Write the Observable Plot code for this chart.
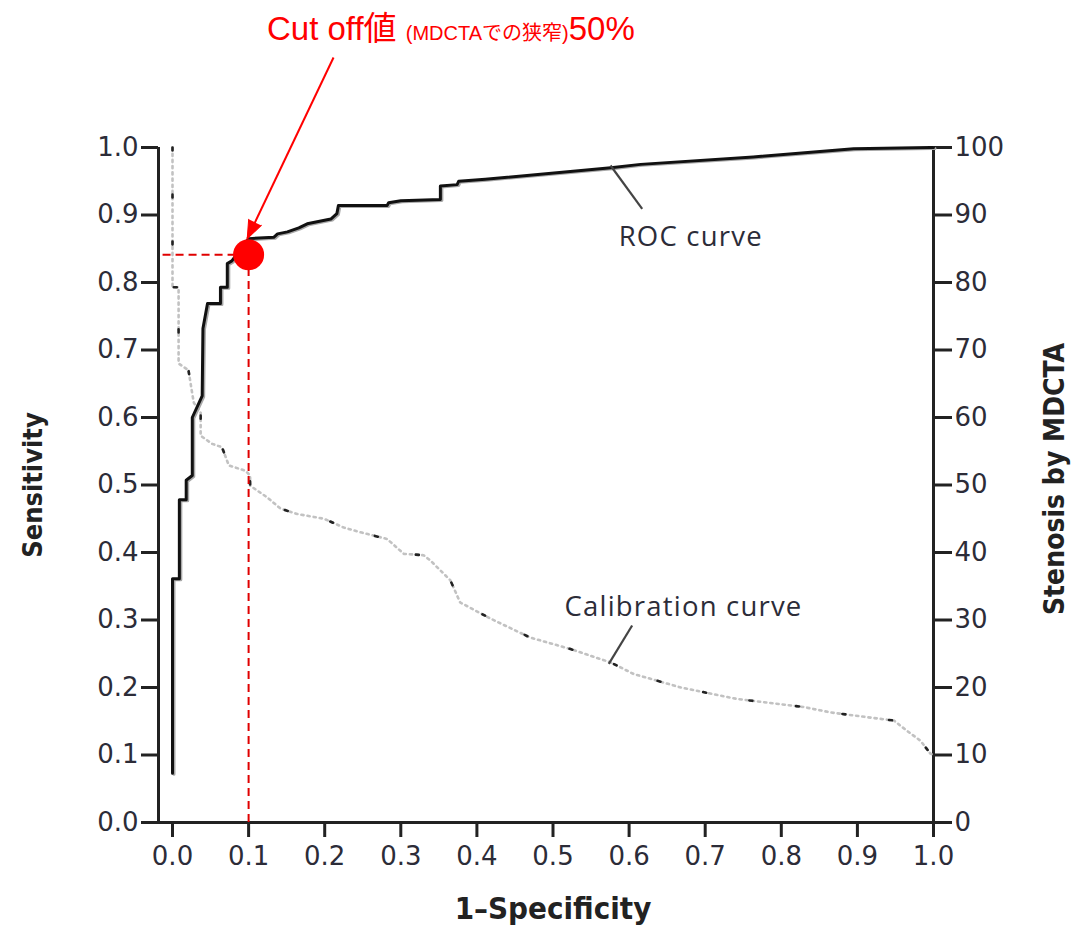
<!DOCTYPE html>
<html>
<head>
<meta charset="utf-8">
<script src="https://cdn.jsdelivr.net/npm/d3@7"></script>
<script src="https://cdn.jsdelivr.net/npm/@observablehq/plot@0.6"></script>
<style>
  body { margin: 0; background: #fff; }
  #wrap { position: relative; width: 1079px; height: 928px; }
  #title { position: absolute; left: 267px; top: 9px; white-space: nowrap; color: #ff0000;
           font-family: "Liberation Sans", "Noto Sans CJK JP", sans-serif; font-size: 33px; line-height: 40px; }
  #title .small { font-size: 20px; }
  #wrap svg { position: absolute; left: 0; top: 0; }
</style>
</head>
<body>
<div id="wrap"></div>
<script>
// ROC curve vertices (1 - specificity, sensitivity)
const rocFpr  = [0.000,0.000,0.009,0.009,0.018,0.018,0.026,0.026,0.039,0.040,0.046,0.063,0.063,0.072,0.072,0.078,0.100,0.133,0.138,0.151,0.166,0.177,0.208,0.216,0.218,0.282,0.284,0.300,0.352,0.352,0.374,0.376,0.411,0.576,0.615,0.763,0.895,0.996,1.000];
const rocSens = [0.073,0.361,0.361,0.478,0.478,0.507,0.514,0.600,0.632,0.732,0.769,0.769,0.793,0.793,0.828,0.832,0.865,0.867,0.872,0.875,0.881,0.887,0.894,0.902,0.914,0.914,0.918,0.921,0.923,0.943,0.945,0.950,0.953,0.970,0.975,0.986,0.998,1.000,1.000];

// Calibration curve (1 - specificity, stenosis by MDCTA %)
const calFpr      = [0,0,0.008,0.008,0.021,0.026,0.028,0.037,0.037,0.052,0.065,0.074,0.096,0.102,0.102,0.124,0.142,0.164,0.199,0.225,0.247,0.282,0.304,0.330,0.339,0.365,0.378,0.418,0.470,0.523,0.576,0.606,0.668,0.742,0.830,0.865,0.913,0.948,0.965,0.983,0.996,1.0];
const calStenosis = [100,79.3,79.3,68.0,67.0,63.5,62.2,60.7,57.3,56.1,55.6,52.9,52.1,51.4,49.9,48.2,46.5,45.7,45.0,43.7,43.0,42.0,39.8,39.6,38.8,35.9,32.6,30.2,27.4,25.7,23.7,22.0,20.0,18.3,17.1,16.3,15.6,15.1,13.6,12.1,10.2,10.0];

// ticks
const xTicks = [0,0.1,0.2,0.3,0.4,0.5,0.6,0.7,0.8,0.9,1.0];
const yTicks = [0,0.1,0.2,0.3,0.4,0.5,0.6,0.7,0.8,0.9,1.0];
const stenosisTicks = [0,10,20,30,40,50,60,70,80,90,100];

// cut-off point
const cutoffFpr = [0.1];
const cutoffSens = [0.841];
const xMin = -0.0184;

// annotations
const curveLabels = ["ROC curve", "Calibration curve"];
const labelFpr = [0.681, 0.6715];
const labelSens = [0.8667, 0.3185];
const leaderX1 = [0.5756, 0.604];
const leaderY1 = [0.9733, 0.2919];
const leaderX2 = [0.6172, 0.5733];
const leaderY2 = [0.9092, 0.2351];
const arrowStart = [0.2116, 1.1333];
const arrowTip = [0.0982, 0.865];

const roc = rocFpr.map((x, i) => ({x, y: rocSens[i]}));
const cal = calFpr.map((x, i) => ({x, s: calStenosis[i]}));
const labels = curveLabels.map((t, i) => ({t, x: labelFpr[i], y: labelSens[i]}));
const leaders = curveLabels.map((t, i) => ({x1: leaderX1[i], y1: leaderY1[i], x2: leaderX2[i], y2: leaderY2[i]}));
const arrow = [{x1: arrowStart[0], y1: arrowStart[1], x2: arrowTip[0], y2: arrowTip[1]}];

const axisColor = "#222";
const labelColor = "#2c2c38";

const chart = Plot.plot({
  width: 1079,
  height: 928,
  marginLeft: 158,
  marginRight: 146,
  marginTop: 147,
  marginBottom: 106,
  x: {domain: [xMin, 1]},
  y: {domain: [0, 1]},
  style: {fontFamily: "DejaVu Sans", fontSize: "26px", background: "transparent", overflow: "visible"},
  marks: [
    // frame lines
    Plot.ruleX([xMin], {y1: 0, y2: 1, stroke: axisColor, strokeWidth: 3}),
    Plot.ruleX([1], {y1: 0, y2: 1, stroke: axisColor, strokeWidth: 3}),
    Plot.ruleY([0], {x1: xMin, x2: 1, stroke: axisColor, strokeWidth: 3}),
    // axes
    Plot.axisX({ticks: xTicks, tickFormat: d3.format(".1f"), tickSize: 15, tickPadding: 9, label: null,
                stroke: axisColor, strokeWidth: 3, fill: labelColor, fontSize: 26}),
    Plot.axisY({ticks: yTicks, tickFormat: d3.format(".1f"), tickSize: 17, tickPadding: 3, label: null,
                stroke: axisColor, strokeWidth: 3, fill: labelColor, fontSize: 26}),
    Plot.axisY({anchor: "right", ticks: stenosisTicks.map(d => d / 100), tickFormat: d => String(Math.round(d * 100)),
                tickSize: 18, tickPadding: 3, label: null, stroke: axisColor, strokeWidth: 3, fill: labelColor, fontSize: 26}),
    // axis titles
    Plot.text(["Sensitivity"], {frameAnchor: "left", dx: -125, rotate: -90, textAnchor: "middle",
              fontFamily: "DejaVu Sans Condensed", fontWeight: "bold", fontSize: 27, fill: axisColor}),
    Plot.text(["Stenosis by MDCTA"], {frameAnchor: "right", dx: 122, dy: -6, rotate: -90, textAnchor: "middle",
              fontFamily: "DejaVu Sans Condensed", fontWeight: "bold", fontSize: 28, fill: axisColor}),
    Plot.text(["1\u2013Specificity"], {frameAnchor: "bottom", dx: 7, dy: 96, textAnchor: "middle",
              fontFamily: "DejaVu Sans Condensed", fontWeight: "bold", fontSize: 31, fill: axisColor}),
    // calibration curve (dotted)
    Plot.line(cal, {x: "x", y: d => d.s / 100, stroke: "#c2c2c2", strokeWidth: 2.6, strokeDasharray: "2.2,4"}),
    Plot.line(cal, {x: "x", y: d => d.s / 100, stroke: "#222", strokeWidth: 2.6, strokeDasharray: "3,44"}),
    // ROC curve
    Plot.line(roc, {x: "x", y: "y", stroke: "#a8a8a8", strokeWidth: 3, dx: 1.5, dy: 1}),
    Plot.line(roc, {x: "x", y: "y", stroke: "#111", strokeWidth: 3}),
    // leader lines and labels
    Plot.link(leaders, {x1: "x1", y1: "y1", x2: "x2", y2: "y2", stroke: "#444", strokeWidth: 2.2}),
    Plot.text(labels, {x: "x", y: "y", text: "t", fontFamily: "Open Sans", fontSize: 27.5, fill: labelColor}),
    // cut-off markers
    Plot.ruleY(cutoffSens, {x1: xMin + 0.006, x2: cutoffFpr[0], stroke: "#e00000", strokeWidth: 2, strokeDasharray: "8,5"}),
    Plot.ruleX(cutoffFpr, {y1: 0, y2: cutoffSens[0], stroke: "#e00000", strokeWidth: 2, strokeDasharray: "8,5"}),
    Plot.dot(cutoffFpr.map((x, i) => ({x, y: cutoffSens[i]})), {x: "x", y: "y", r: 15.5, fill: "#ff0000", stroke: "none"}),
    // arrow
    Plot.link(arrow, {x1: "x1", y1: "y1", x2: "x2", y2: "y2", stroke: "#ff0000", strokeWidth: 2}),
    Plot.vector(arrow, {x: "x2", y: "y2", anchor: "end", shape: "spike", length: 18, r: 7, rotate: 205.5,
                        fill: "#ff0000", stroke: "#ff0000", strokeWidth: 1})
  ]
});

const wrap = document.getElementById("wrap");
wrap.appendChild(chart);
// letter-spacing for curve labels
chart.querySelectorAll("text").forEach(t => {
  if (t.textContent === "ROC curve" || t.textContent === "Calibration curve") t.setAttribute("letter-spacing", "1.2");
});
const title = document.createElement("div");
title.id = "title";
title.innerHTML = 'Cut off値 <span class="small">(MDCTAでの狭窄)</span>50%';
wrap.appendChild(title);
</script>
</body>
</html>
